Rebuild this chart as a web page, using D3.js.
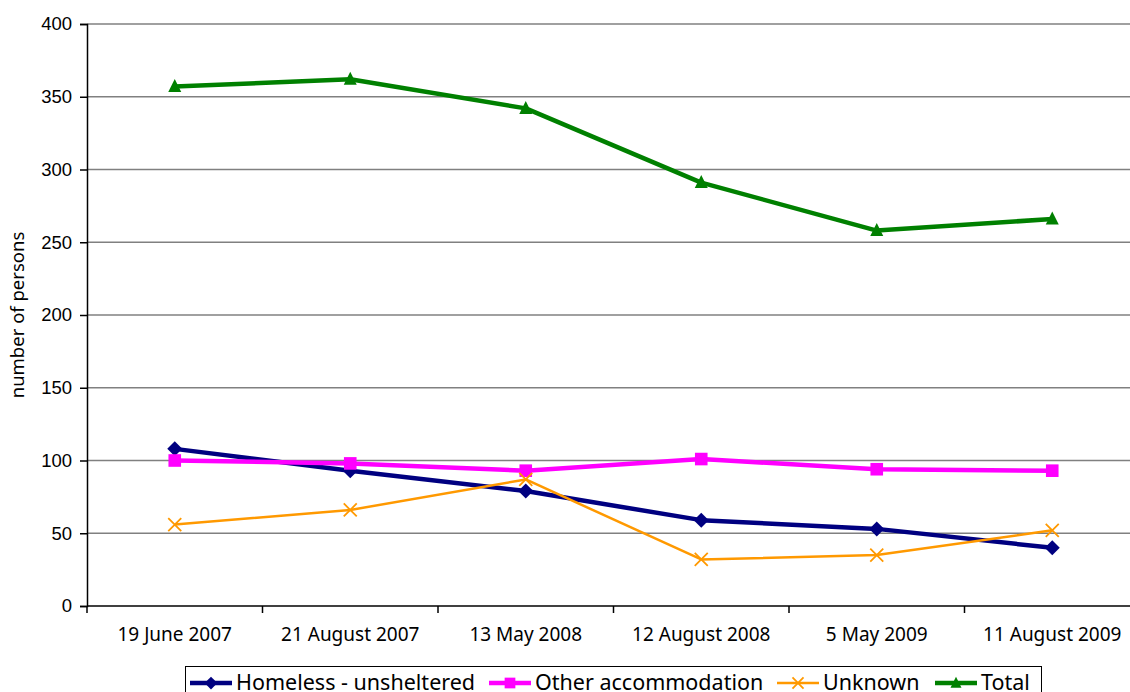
<!DOCTYPE html>
<html>
<head>
<meta charset="utf-8">
<script src="https://cdn.jsdelivr.net/npm/d3@7"></script>
<style>
  body { margin: 0; background: #fff; }
  svg { display: block; font-family: "Noto Sans", "DejaVu Sans", sans-serif; }
</style>
</head>
<body>
<svg width="1130" height="692"></svg>
<script>
// data
var categories = ["19 June 2007", "21 August 2007", "13 May 2008", "12 August 2008", "5 May 2009", "11 August 2009"];
var homeless = [108, 93, 79, 59, 53, 40];
var otherAcc = [100, 98, 93, 101, 94, 93];
var unknown = [56, 66, 87, 32, 35, 52];
var total = [357, 362, 342, 291, 258, 266];
var yTicks = [0, 50, 100, 150, 200, 250, 300, 350, 400];

var series = [
  {name: "Homeless - unsheltered", values: homeless, color: "#000080", width: 4.5, marker: "diamond"},
  {name: "Other accommodation", values: otherAcc, color: "#ff00ff", width: 4.5, marker: "square"},
  {name: "Unknown", values: unknown, color: "#ff9900", width: 2.5, marker: "cross"},
  {name: "Total", values: total, color: "#008000", width: 4.5, marker: "triangle"}
];

var svg = d3.select("svg"),
    margin = {left: 87, top: 24, right: -10, bottom: 86},
    width = 1130 - margin.left - margin.right,
    height = 692 - margin.top - margin.bottom;

var x = d3.scaleBand().domain(categories).range([margin.left, margin.left + width]);
var y = d3.scaleLinear().domain([0, 400]).range([margin.top + height, margin.top]);

// grid
svg.append("g").selectAll("line")
  .data(yTicks.filter(function(d) { return d > 0; }))
  .enter().append("line")
    .attr("x1", margin.left).attr("x2", margin.left + width)
    .attr("y1", function(d) { return y(d); }).attr("y2", function(d) { return y(d); })
    .attr("stroke", "#808080").attr("stroke-width", 1.5);

// y axis
var yAxis = svg.append("g")
  .attr("transform", "translate(" + margin.left + ",0)")
  .call(d3.axisLeft(y).tickValues(yTicks).tickSize(7).tickPadding(8));
yAxis.select(".domain").attr("stroke", "#000").attr("stroke-width", 1.5);
yAxis.selectAll(".tick line").attr("stroke", "#000").attr("stroke-width", 1.5);
yAxis.selectAll("text").attr("font-size", 18.5).attr("fill", "#000").attr("font-family", "inherit");

// x axis, ticks sit between categories
var xAxis = svg.append("g").attr("transform", "translate(0," + y(0) + ")");
xAxis.append("line")
  .attr("x1", margin.left).attr("x2", margin.left + width)
  .attr("stroke", "#000").attr("stroke-width", 1.5);
var bounds = categories.map(function(c) { return x(c); }).concat([margin.left + width]);
xAxis.selectAll(".xt").data(bounds).enter().append("line")
  .attr("x1", function(d) { return d; }).attr("x2", function(d) { return d; })
  .attr("y1", 0).attr("y2", 7)
  .attr("stroke", "#000").attr("stroke-width", 1.5);
xAxis.selectAll("text").data(categories).enter().append("text")
  .attr("x", function(d) { return x(d) + x.bandwidth() / 2; })
  .attr("y", 35)
  .attr("text-anchor", "middle")
  .attr("font-size", 19)
  .text(function(d) { return d; });

svg.append("text")
  .attr("transform", "translate(24," + (margin.top + height / 2) + ") rotate(-90)")
  .attr("text-anchor", "middle")
  .attr("font-size", 18.5)
  .text("number of persons");

function cx(i) { return x(categories[i]) + x.bandwidth() / 2; }

function drawMarker(g, type, color, px, py, k) {
  if (type === "diamond") {
    var s = 7.5 * k;
    g.append("path").attr("d", "M" + px + "," + (py - s) + "L" + (px + s) + "," + py + "L" + px + "," + (py + s) + "L" + (px - s) + "," + py + "Z")
      .attr("fill", color);
  } else if (type === "square") {
    var h = 6.3 * k;
    g.append("rect").attr("x", px - h).attr("y", py - h).attr("width", h * 2).attr("height", h * 2).attr("fill", color);
  } else if (type === "triangle") {
    var w = 6.5 * k;
    g.append("path").attr("d", "M" + px + "," + (py - 7.5 * k) + "L" + (px + w) + "," + (py + 5.5 * k) + "L" + (px - w) + "," + (py + 5.5 * k) + "Z")
      .attr("fill", color);
  } else {
    var c = 6.5 * k;
    g.append("path").attr("d", "M" + (px - c) + "," + (py - c) + "L" + (px + c) + "," + (py + c) + "M" + (px + c) + "," + (py - c) + "L" + (px - c) + "," + (py + c))
      .attr("stroke", color).attr("stroke-width", 1.8).attr("fill", "none");
  }
}

var line = d3.line().x(function(d, i) { return cx(i); }).y(function(d) { return y(d); });

series.forEach(function(s) {
  var g = svg.append("g");
  g.append("path").datum(s.values)
    .attr("d", line)
    .attr("fill", "none")
    .attr("stroke", s.color)
    .attr("stroke-width", s.width)
    .attr("stroke-linejoin", "round");
  s.values.forEach(function(v, i) {
    drawMarker(g, s.marker, s.color, cx(i), y(v), 1);
  });
});

// legend
var legend = svg.append("g");
legend.append("rect")
  .attr("x", 185.5).attr("y", 666.5).attr("width", 856).attr("height", 40)
  .attr("fill", "#fff").attr("stroke", "#000").attr("stroke-width", 1);
var legendX = [190, 489, 777, 935];
series.forEach(function(s, i) {
  var lg = legend.append("g");
  var lx = legendX[i];
  lg.append("line").attr("x1", lx).attr("x2", lx + 42).attr("y1", 683).attr("y2", 683)
    .attr("stroke", s.color).attr("stroke-width", s.width);
  drawMarker(lg, s.marker, s.color, lx + 21, 683, 0.85);
  lg.append("text").attr("x", lx + 46).attr("y", 690)
    .attr("font-size", 21.5).text(s.name);
});
</script>
</body>
</html>
